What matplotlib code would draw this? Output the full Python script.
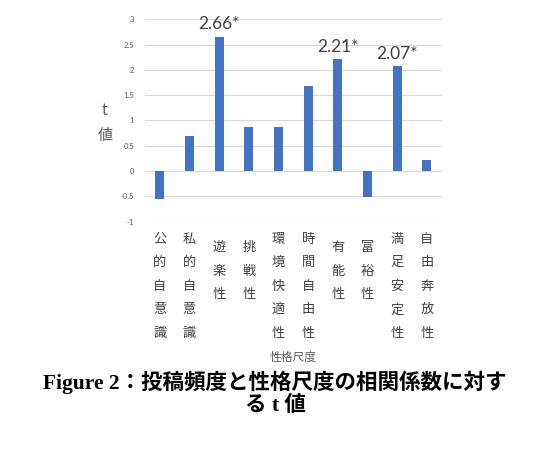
import matplotlib
matplotlib.use("Agg")
import matplotlib.pyplot as plt
import numpy as np

plt.rcParams["font.family"] = ["Noto Sans CJK JP", "DejaVu Sans"]

# データ
SCALES = ["公的自意識", "私的自意識", "遊楽性", "挑戦性", "環境快適性",
          "時間自由性", "有能性", "富裕性", "満足安定性", "自由奔放性"]
T_VALUES = [-0.56, 0.69, 2.66, 0.88, 0.88, 1.69, 2.21, -0.51, 2.07, 0.21]
SIGNIF = ["", "", "2.66*", "", "", "", "2.21*", "", "2.07*", ""]
YTICKS = [-1, -0.5, 0, 0.5, 1, 1.5, 2, 2.5, 3]
YTICK_LABELS = ["-1", "-0.5", "0", "0.5", "1", "1.5", "2", "2.5", "3"]

BAR_COLOR = "#4472C4"
GRID_COLOR = "#D9D9D9"
TEXT_GRAY = "#595959"

fig = plt.figure(figsize=(5.37, 4.53), dpi=100)
ax = fig.add_axes([0.270, 0.5106, 0.5525, 0.4468])

x = np.arange(len(SCALES))
bars = ax.bar(x, T_VALUES, width=0.31, color=BAR_COLOR, zorder=3)

for b, lab in zip(bars, SIGNIF):
    if lab:
        ax.annotate(lab, (b.get_x() + b.get_width() / 2, b.get_height()),
                    textcoords="offset points", xytext=(0, 3),
                    ha="center", va="bottom", fontsize=12.5,
                    color="#404040", family=["Lato", "DejaVu Sans"])

ax.set_xlim(-0.5, len(SCALES) - 0.5)
ax.set_ylim(-1, 3)
ax.set_yticks(YTICKS)
ax.set_yticklabels(YTICK_LABELS, fontsize=5.5, color=TEXT_GRAY,
                   family=["Lato", "DejaVu Sans"])
ax.grid(axis="y", color=GRID_COLOR, linewidth=0.8, zorder=0)
for s in ax.spines.values():
    s.set_visible(False)
ax.tick_params(axis="y", length=0, pad=8)
ax.tick_params(axis="x", length=0, pad=8)

ax.set_xticks(x)
ax.set_xticklabels(["\n".join(s) for s in SCALES], fontsize=9.5,
                   color="#404040", va="top", linespacing=2.05)
# 3文字のラベルは少し下から始まる
for tick, s in zip(ax.xaxis.get_major_ticks(), SCALES):
    if len(s) == 3:
        tick.set_pad(14)

fig.text(105 / 537, 1 - 123 / 453, "t\n値", ha="center", va="center",
         fontsize=11, color=TEXT_GRAY, linespacing=1.65)
fig.text(293 / 537, 1 - 357 / 453, "性格尺度", ha="center", va="center",
         fontsize=8.5, color=TEXT_GRAY)

cap = ["Liberation Serif", "Noto Sans CJK JP"]
fig.text(275 / 537, 1 - 382 / 453, "Figure 2：投稿頻度と性格尺度の相関係数に対す",
         ha="center", va="center", fontsize=15.5, fontweight="bold",
         color="black", family=cap)
fig.text(275 / 537, 1 - 406 / 453, "る t 値",
         ha="center", va="center", fontsize=15.5, fontweight="bold",
         color="black", family=cap)

fig.savefig("out.png", dpi=100)
